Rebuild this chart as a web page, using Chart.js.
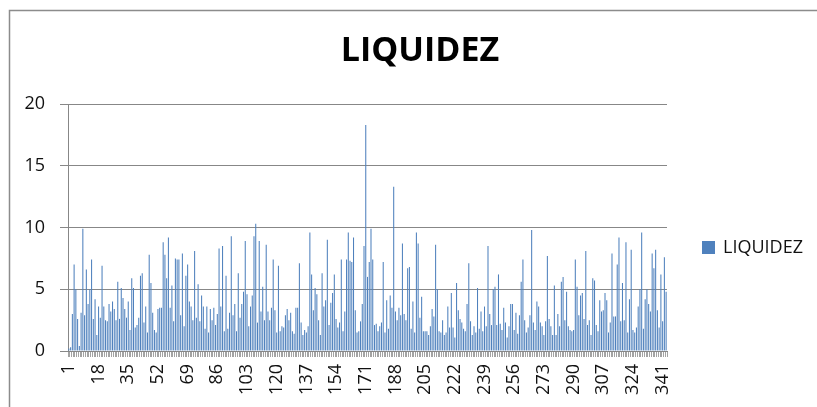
<!DOCTYPE html>
<html>
<head>
<meta charset="utf-8">
<script src="https://cdn.jsdelivr.net/npm/chart.js@4.4.1/dist/chart.umd.min.js"></script>
<style>
  html, body { margin: 0; padding: 0; background: #fff; }
  #wrap { width: 817px; height: 407px; position: relative; }
</style>
</head>
<body>
<div id="wrap"><canvas id="chart" width="817" height="407"></canvas></div>
<script>
// tick labels shown under the x axis (every 17th row)
const TICK_LABELS = ['1', '18', '35', '52', '69', '86', '103', '120', '137', '154', '171',
  '188', '205', '222', '239', '256', '273', '290', '307', '324', '341'];
const ROW_COUNT = 343;
const categories = Array.from({ length: ROW_COUNT }, (_, i) => String(i + 1));

// LIQUIDEZ per row (rows 1-56, 57-115, 116-176, 177-236, 237-297, 298-343)
const liquidezA = [0.2, 0.3, 3.0, 7.0, 5.0, 2.6, 0.4, 3.1, 9.9, 2.9, 6.6, 3.8, 5.0, 7.4, 2.6, 4.2, 1.3, 3.6, 2.7, 6.9,
  3.6, 2.5, 2.4, 3.8, 3.2, 4.0, 3.4, 2.5, 5.6, 2.6, 5.1, 4.3, 3.4, 2.7, 4.0, 1.7, 5.9, 5.1, 1.9, 2.1,
  2.7, 6.1, 6.3, 2.3, 3.6, 1.5, 7.8, 5.5, 3.1, 1.7, 1.5, 3.4, 3.5, 3.5, 8.8, 7.8];
const liquidezB = [5.9, 9.2, 3.5, 5.3, 2.4, 7.5, 7.4, 7.4, 2.9, 7.9, 2.0, 6.1, 7.0, 4.0, 3.6, 2.5, 8.1, 2.7, 5.4, 2.4,
  4.5, 3.6, 1.8, 3.6, 1.5, 3.4, 2.5, 3.5, 2.1, 3.0, 8.3, 3.6, 8.5, 1.6, 6.1, 1.8, 3.1, 9.3, 2.9, 3.8,
  1.6, 6.3, 2.7, 3.8, 4.8, 8.9, 4.6, 2.0, 3.6, 4.5, 9.3, 10.3, 2.3, 8.9, 3.2, 5.2, 2.5, 8.6, 3.2];
const liquidezC = [2.5, 3.5, 7.4, 3.3, 1.5, 6.9, 1.6, 2.0, 1.9, 2.9, 3.4, 2.5, 3.1, 1.6, 1.4, 3.5, 3.5, 7.1, 2.3, 1.3,
  1.7, 1.5, 2.0, 9.6, 6.2, 3.3, 5.1, 4.6, 2.5, 1.3, 6.3, 3.6, 4.1, 9.0, 2.1, 3.9, 4.7, 6.2, 2.6, 1.9,
  2.3, 7.4, 1.6, 3.2, 7.4, 9.6, 7.3, 7.2, 9.2, 3.3, 1.5, 1.6, 2.4, 3.8, 8.5, 18.3, 6.0, 7.2, 9.9, 7.4, 2.1];
const liquidezD = [2.2, 1.6, 2.0, 2.3, 7.2, 1.5, 4.1, 1.8, 4.5, 3.5, 13.3, 3.2, 2.5, 3.5, 2.9, 8.7, 3.0, 2.5, 6.7, 6.8,
  1.8, 4.0, 1.5, 9.6, 8.7, 2.7, 4.4, 1.6, 1.6, 1.6, 1.3, 2.0, 3.4, 2.8, 8.6, 5.0, 1.6, 1.5, 2.5, 1.3,
  1.5, 3.6, 1.9, 4.7, 1.9, 1.1, 5.5, 3.3, 2.6, 2.3, 1.8, 1.6, 3.8, 7.1, 2.4, 1.3, 2.0, 1.5, 5.1, 1.8];
const liquidezE = [3.2, 1.6, 3.6, 2.0, 8.5, 3.0, 2.1, 5.0, 5.2, 2.1, 6.2, 2.2, 1.7, 3.5, 2.3, 1.1, 2.0, 3.8, 3.8, 1.7,
  3.1, 1.4, 2.9, 5.6, 7.4, 2.5, 1.5, 1.9, 2.9, 9.8, 2.3, 1.7, 4.0, 3.6, 2.3, 2.0, 1.3, 2.4, 7.7, 2.6,
  2.0, 1.3, 5.3, 1.3, 3.0, 2.0, 5.6, 6.0, 2.5, 4.8, 2.0, 1.7, 1.6, 1.7, 7.4, 5.2, 2.9, 4.5, 4.7, 2.6, 8.1];
const liquidezF = [2.1, 2.5, 1.3, 5.9, 5.7, 2.1, 1.6, 4.1, 3.2, 3.3, 4.7, 4.1, 1.5, 2.3, 7.9, 2.8, 2.8, 7.0, 9.2, 2.4,
  5.5, 2.5, 8.8, 1.5, 4.2, 8.2, 1.7, 1.5, 1.9, 3.6, 5.0, 9.6, 1.8, 4.2, 5.0, 3.8, 3.2, 7.9, 6.7, 8.2,
  3.3, 1.9, 6.2, 2.4, 7.6, 4.8];
const liquidez = [...liquidezA, ...liquidezB, ...liquidezC, ...liquidezD, ...liquidezE, ...liquidezF];

const BLUE = '#4F81BD';
const GRID = '#878787';
const FONT = 'Open Sans';

// outer frame of the chart + legend on the right
const frame = {
  id: 'frame',
  beforeDraw(chart) {
    const ctx = chart.ctx;
    ctx.save();
    ctx.strokeStyle = '#8c8c8c';
    ctx.lineWidth = 1.5;
    ctx.beginPath();
    ctx.moveTo(9.5, 420);
    ctx.lineTo(9.5, 10.5);
    ctx.lineTo(830, 10.5);
    ctx.stroke();
    ctx.restore();
  },
  afterDraw(chart) {
    const ctx = chart.ctx;
    const ds = chart.data.datasets[0];
    const x = chart.chartArea.right + 35;
    const y = 247;
    ctx.save();
    ctx.fillStyle = ds.backgroundColor;
    ctx.fillRect(x, y - 6, 13, 13);
    ctx.fillStyle = '#111';
    ctx.font = `18px "${FONT}"`;
    ctx.textBaseline = 'middle';
    ctx.fillText(ds.label, x + 21, y + 1);
    ctx.restore();
  }
};

new Chart(document.getElementById('chart'), {
  type: 'bar',
  data: {
    labels: categories,
    datasets: [{ label: 'LIQUIDEZ', data: liquidez, backgroundColor: BLUE, categoryPercentage: 0.6, barPercentage: 1.0 }]
  },
  options: {
    responsive: false,
    animation: false,
    layout: { padding: { left: 23, right: 0, top: 0, bottom: 0 } },
    plugins: {
      legend: { display: false },
      tooltip: { enabled: false },
      title: {
        display: true, text: 'LIQUIDEZ', color: '#000',
        font: { family: FONT, size: 34, weight: 'bold', lineHeight: 1.2 },
        padding: { top: 31, bottom: 32.2 }
      }
    },
    scales: {
      x: {
        grid: { display: true, drawOnChartArea: false, offset: true, tickLength: 6, color: '#a3a3a3' },
        border: { color: GRID },
        ticks: {
          autoSkip: false, minRotation: 90, maxRotation: 90, padding: 7, color: '#111',
          font: { family: FONT, size: 18 },
          callback(v) { const l = this.getLabelForValue(v); return TICK_LABELS.includes(l) ? l : ''; }
        },
        afterFit(s) { s.height = 56; }
      },
      y: {
        min: 0, max: 20,
        grid: { color: GRID, tickLength: 8 },
        border: { color: GRID },
        ticks: { stepSize: 5, padding: 15, color: '#111', font: { family: FONT, size: 18 } },
        afterFit(s) { s.width = 45; }
      },
      y2: {
        position: 'right', min: 0, max: 20,
        grid: { display: false }, border: { display: false }, ticks: { display: false },
        afterFit(s) { s.width = 150; }
      }
    }
  },
  plugins: [frame]
});
</script>
</body>
</html>
